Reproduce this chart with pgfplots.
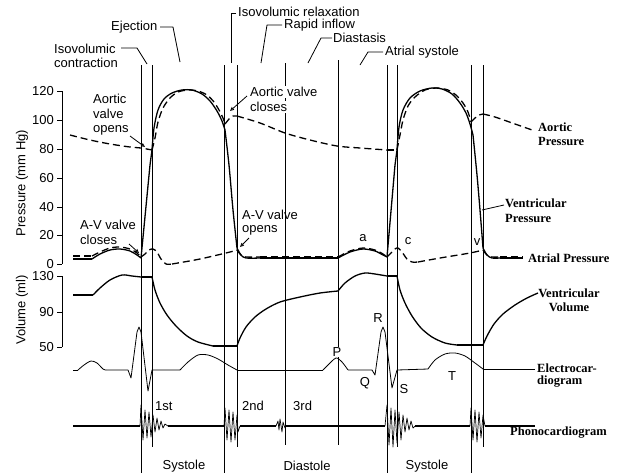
\documentclass[border=0pt]{standalone}
\usepackage{pgfplots}
\pgfplotsset{compat=1.18}
\usepackage{fontspec}
\setmainfont{Liberation Sans}
\newfontfamily\tnr{Liberation Serif}
\usetikzlibrary{arrows.meta}
\begin{document}
\begin{tikzpicture}[font=\fontsize{13}{15}\selectfont,
    vl/.style={line width=1pt},
    thin/.style={line width=0.8pt},
    crv/.style={line width=1.3pt},
    dsh/.style={line width=1.3pt, dash pattern=on 7pt off 4pt},
    snd/.style={line width=0.7pt},
    arr/.style={line width=0.8pt, -{Triangle[open,length=4pt,width=3.5pt]}},
    lbl/.style={font=\tnr\bfseries\fontsize{12.5}{14}\selectfont, anchor=west, inner sep=0pt},
    txt/.style={anchor=west, inner sep=0pt},
  ]
\begin{axis}[
    x=1pt, y=1pt,
    xmin=0, xmax=620, ymin=0, ymax=473,
    y dir=reverse,
    hide axis, clip=false,
    every axis plot/.append style={black, line join=round},
  ]
\draw[draw=none] (rel axis cs:0,0) rectangle (rel axis cs:1,1);

% scales
\addplot[thin] coordinates {(62,91) (62,264)};
\addplot[thin] coordinates {(62,276) (62,347)};
\addplot[thin] coordinates {(57,91) (62,91)};
\addplot[thin] coordinates {(57,120) (62,120)};
\addplot[thin] coordinates {(57,149) (62,149)};
\addplot[thin] coordinates {(57,178) (62,178)};
\addplot[thin] coordinates {(57,207) (62,207)};
\addplot[thin] coordinates {(57,235) (62,235)};
\addplot[thin] coordinates {(57,264) (62,264)};
\addplot[thin] coordinates {(57,276) (62,276)};
\addplot[thin] coordinates {(57,312) (62,312)};
\addplot[thin] coordinates {(57,347) (62,347)};
\node[anchor=east,inner sep=0pt] at (axis cs:54,91) {120};
\node[anchor=east,inner sep=0pt] at (axis cs:54,120) {100};
\node[anchor=east,inner sep=0pt] at (axis cs:54,149) {80};
\node[anchor=east,inner sep=0pt] at (axis cs:54,178) {60};
\node[anchor=east,inner sep=0pt] at (axis cs:54,207) {40};
\node[anchor=east,inner sep=0pt] at (axis cs:54,235) {20};
\node[anchor=east,inner sep=0pt] at (axis cs:54,264) {0};
\node[anchor=east,inner sep=0pt] at (axis cs:54,276) {130};
\node[anchor=east,inner sep=0pt] at (axis cs:54,312) {90};
\node[anchor=east,inner sep=0pt] at (axis cs:54,347) {50};
\node[rotate=90] at (axis cs:22,183) {Pressure (mm Hg)};
\node[rotate=90] at (axis cs:22,310) {Volume (ml)};

% phase lines
\addplot[vl] coordinates {(141,65) (141,473)};
\addplot[vl] coordinates {(152,65) (152,447)};
\addplot[vl] coordinates {(224,65) (224,473)};
\addplot[vl] coordinates {(237,65) (237,447)};
\addplot[vl] coordinates {(285,63) (285,445)};
\addplot[vl] coordinates {(338,60) (338,445)};
\addplot[vl] coordinates {(387,65) (387,473)};
\addplot[vl] coordinates {(397,65) (397,447)};
\addplot[vl] coordinates {(471,65) (471,473)};
\addplot[vl] coordinates {(483,65) (483,447)};

% phase labels and leaders
\node[txt] at (axis cs:54,49) {Isovolumic};
\node[txt] at (axis cs:54,63) {contraction};
\addplot[thin] coordinates {(121,48) (137,48) (147,64)};
\node[txt] at (axis cs:111,27) {Ejection};
\addplot[thin] coordinates {(160,27) (173,27) (180,62)};
\node[txt] at (axis cs:238,12) {Isovolumic relaxation};
\addplot[thin] coordinates {(236,13) (231,13) (231,63)};
\node[txt] at (axis cs:284,25) {Rapid inflow};
\addplot[thin] coordinates {(282,25) (267,25) (261,63)};
\node[txt] at (axis cs:333,38) {Diastasis};
\addplot[thin] coordinates {(332,38) (321,38) (308,63)};
\node[txt] at (axis cs:385,52) {Atrial systole};
\addplot[thin] coordinates {(383,52) (368,52) (360,65)};

% aortic pressure
\addplot[dsh,smooth] coordinates {(70,135) (90,140) (110,144) (130,147) (141,148) (152,150)};
\addplot[dsh,smooth] coordinates {(152,150) (155,138) (158,122) (163,108) (170,98) (178,92) (188,90) (198,91) (207,95) (214,102) (219,110) (223,118) (225,124)};
\addplot[dsh] coordinates {(225,124) (229,119) (233,116) (237,116)};
\addplot[dsh,smooth] coordinates {(237,116) (260,123) (285,133) (310,140) (337,146) (360,148) (387,150)};
\addplot[dsh] coordinates {(387,150) (397,150)};
\addplot[dsh,smooth] coordinates {(397,150) (400,135) (403,120) (408,106) (415,97) (425,90) (437,88) (448,90) (456,95) (463,103) (468,112) (471,122)};
\addplot[dsh] coordinates {(471,122) (475,118) (479,115) (483,114)};
\addplot[dsh,smooth] coordinates {(483,114) (495,117) (515,124) (535,131)};

% ventricular pressure
\addplot[crv] coordinates {(73,259) (92,259)};
\addplot[crv,smooth] coordinates {(92,259) (100,254) (110,250) (120,249) (130,251) (137,255) (141,258)};
\addplot[crv] coordinates {(141,258) (150,165) (152,150)};
\addplot[crv,smooth] coordinates {(152,150) (154,128) (158,110) (164,99) (172,93) (182,90) (192,90) (202,94) (210,101) (217,111) (222,121) (225,130)};
\addplot[crv,smooth] coordinates {(225,130) (229,165) (233,210) (237,248)};
\addplot[crv,smooth] coordinates {(237,248) (241,255) (246,258) (260,258)};
\addplot[crv] coordinates {(260,258) (338,258)};
\addplot[crv,smooth] coordinates {(338,258) (350,252) (363,249) (375,251) (383,255) (387,257)};
\addplot[crv] coordinates {(387,257) (395,165) (397,150)};
\addplot[crv,smooth] coordinates {(397,150) (399,127) (403,110) (410,98) (420,91) (432,88) (442,89) (452,94) (460,103) (466,113) (470,124) (473,135)};
\addplot[crv,smooth] coordinates {(473,135) (477,175) (480,210) (483,248)};
\addplot[crv,smooth] coordinates {(483,248) (487,255) (492,258) (500,258)};
\addplot[crv] coordinates {(500,258) (523,258)};
\addplot[thin] coordinates {(482,210) (504,205)};

% atrial pressure
\addplot[dsh] coordinates {(73,256) (92,256)};
\addplot[dsh,smooth] coordinates {(92,256) (100,252) (110,248) (120,247) (130,249) (137,253) (141,257)};
\addplot[dsh,smooth] coordinates {(141,257) (145,254) (149,250) (153,249) (157,252) (161,259) (166,264) (172,264)};
\addplot[dsh,smooth] coordinates {(172,264) (200,259) (230,252) (237,250)};
\addplot[dsh,smooth] coordinates {(237,250) (241,255) (246,257) (260,257)};
\addplot[dsh] coordinates {(260,257) (338,257)};
\addplot[dsh,smooth] coordinates {(338,257) (350,251) (363,248) (375,250) (383,254) (387,257)};
\addplot[dsh,smooth] coordinates {(387,257) (391,253) (395,249) (398,248) (402,252) (407,259) (412,262) (418,262)};
\addplot[dsh,smooth] coordinates {(418,262) (440,258) (470,253) (483,250)};
\addplot[dsh,smooth] coordinates {(483,250) (487,255) (492,257) (500,257)};
\addplot[dsh] coordinates {(500,257) (523,257)};

% ventricular volume
\addplot[crv] coordinates {(73,295) (93,295)};
\addplot[crv,smooth] coordinates {(93,295) (100,288) (110,280) (122,275) (132,276) (141,277)};
\addplot[crv] coordinates {(141,277) (152,277)};
\addplot[crv,smooth] coordinates {(152,277) (155,290) (160,303) (167,315) (176,326) (187,336) (198,342) (213,346)};
\addplot[crv] coordinates {(213,346) (237,346)};
\addplot[crv,smooth] coordinates {(237,346) (240,338) (246,327) (255,317) (266,309) (280,302) (300,297) (320,293) (338,291)};
\addplot[crv,smooth] coordinates {(338,291) (345,283) (355,276) (365,273) (375,274) (387,276)};
\addplot[crv] coordinates {(387,276) (397,276)};
\addplot[crv,smooth] coordinates {(397,276) (400,290) (405,303) (412,316) (421,328) (432,337) (445,343) (457,345)};
\addplot[crv] coordinates {(457,345) (483,345)};
\addplot[crv,smooth] coordinates {(483,345) (487,336) (494,324) (503,314) (515,305) (527,298) (538,293)};

% electrocardiogram
\addplot[thin] coordinates {(73,370) (78,370)};
\addplot[thin,smooth] coordinates {(78,370) (84,365) (91,361) (97,363) (103,369) (106,370)};
\addplot[thin] coordinates {(106,370) (128,370) (131,378) (137,332) (139,327) (141,332) (148,391) (152,370) (180,370)};
\addplot[thin,smooth] coordinates {(180,370) (188,362) (198,355) (208,355) (218,359) (228,365) (237,370)};
\addplot[thin] coordinates {(237,370) (323,370)};
\addplot[thin,smooth] coordinates {(323,370) (328,365) (336,358) (342,362) (348,370)};
\addplot[thin] coordinates {(348,370) (372,370) (375,375) (381,332) (383,327) (385,332) (392,388) (397,370) (428,369)};
\addplot[thin,smooth] coordinates {(428,369) (435,360) (445,354) (455,353) (465,356) (475,363) (483,369)};
\addplot[thin] coordinates {(483,369) (535,369)};

% phonocardiogram
\addplot[line width=1.4pt] coordinates {(73,426) (140,426)};
\addplot[line width=1.4pt] coordinates {(168,426) (224,426)};
\addplot[line width=1.4pt] coordinates {(240,426) (276,426)};
\addplot[line width=1.4pt] coordinates {(286,426) (385,426)};
\addplot[line width=1.4pt] coordinates {(415,426) (470,426)};
\addplot[line width=1.4pt] coordinates {(485,426) (535,426)};
\addplot[snd] coordinates {(140,426) (141,405) (143,440) (145,410) (147,438) (149,412) (151,437) (153,415) (155,432)
  (157,418) (159,430) (161,421) (163,428) (165,424) (168,426)};
\addplot[snd] coordinates {(224,426) (225,408) (227,440) (229,410) (231,442) (233,412) (235,440) (237,415) (238,432) (240,426)};
\addplot[snd] coordinates {(276,426) (278,421) (279,430) (280,419) (282,432) (283,422) (285,428) (286,426)};
\addplot[snd] coordinates {(385,426) (387,405) (389,445) (391,408) (393,447) (395,410) (397,443) (399,412)
  (401,440) (403,415) (405,432) (407,418) (409,430) (411,421) (413,428) (415,426)};
\addplot[snd] coordinates {(470,426) (471,408) (473,440) (475,410) (477,442) (479,412) (481,438) (483,415) (485,426)};

% annotations
\node[txt] at (axis cs:93,99) {Aortic};
\node[txt] at (axis cs:93,114) {valve};
\node[txt] at (axis cs:93,130) {opens};
\addplot[arr] coordinates {(130,136) (145,147)};
\node[txt,fill=white,inner sep=1pt] at (axis cs:249,92) {Aortic valve};
\node[txt,fill=white,inner sep=1pt] at (axis cs:249,107) {closes};
\addplot[arr] coordinates {(247,96) (230,111)};
\node[txt] at (axis cs:80,225) {A-V valve};
\node[txt] at (axis cs:80,240) {closes};
\addplot[arr] coordinates {(129,244) (139,253)};
\node[txt] at (axis cs:242,215) {A-V valve};
\node[txt] at (axis cs:242,230) {opens};
\addplot[arr] coordinates {(249,238) (240,247)};
\node at (axis cs:363,238) {a};
\node at (axis cs:408,241) {c};
\node at (axis cs:477,242) {v};
\node[fill=white,inner sep=1pt] at (axis cs:337,352) {P};
\node at (axis cs:365,383) {Q};
\node at (axis cs:378,318) {R};
\node at (axis cs:404,389) {S};
\node at (axis cs:452,376) {T};
\node[txt] at (axis cs:155,406) {1st};
\node[txt] at (axis cs:242,406) {2nd};
\node[txt] at (axis cs:293,406) {3rd};
\node at (axis cs:184,466) {Systole};
\node at (axis cs:307,466) {Diastole};
\node at (axis cs:427,466) {Systole};

% trace names
\node[lbl] at (axis cs:538,127) {Aortic};
\node[lbl] at (axis cs:538,141) {Pressure};
\node[lbl] at (axis cs:505,203) {Ventricular};
\node[lbl] at (axis cs:505,218) {Pressure};
\node[lbl] at (axis cs:528,258) {Atrial Pressure};
\node[lbl,anchor=center,align=center] at (axis cs:569,300) {Ventricular\\Volume};
\node[lbl] at (axis cs:537,368) {Electrocar-};
\node[lbl] at (axis cs:537,382) {diogram};
\node[lbl] at (axis cs:510,433) {Phonocardiogram};
\end{axis}
\end{tikzpicture}
\end{document}
